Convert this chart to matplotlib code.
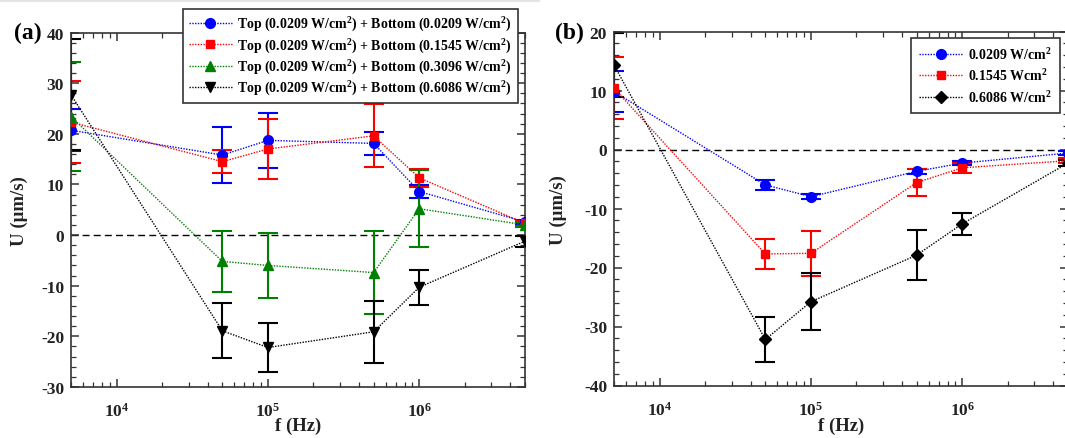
import matplotlib
matplotlib.use("Agg")
import matplotlib.pyplot as plt
from matplotlib.patches import Rectangle
from matplotlib.ticker import MultipleLocator, LogLocator, NullFormatter, FixedLocator, FixedFormatter

plt.rcParams.update({
    "font.family": ["Liberation Serif", "DejaVu Serif"],
    "font.weight": "bold",
    "mathtext.fontset": "custom",
    "mathtext.rm": "Liberation Serif:bold",
    "mathtext.bf": "Liberation Serif:bold",
    "mathtext.it": "Liberation Serif:italic:bold",
    "axes.unicode_minus": False,
    "axes.linewidth": 1.2,
    "axes.edgecolor": "#333333",
})

# ---- data ---------------------------------------------------------------
freq_hz = [5e3, 5e4, 1e5, 5e5, 1e6, 5e6]

# (a) top transducer fixed, bottom transducer varied
a_labels = [
    "Top (0.0209 W/cm$^2$) + Bottom (0.0209 W/cm$^2$)",
    "Top (0.0209 W/cm$^2$) + Bottom (0.1545 W/cm$^2$)",
    "Top (0.0209 W/cm$^2$) + Bottom (0.3096 W/cm$^2$)",
    "Top (0.0209 W/cm$^2$) + Bottom (0.6086 W/cm$^2$)",
]
a_u_0209 = [20.7, 15.8, 18.7, 18.1, 8.6, 2.6]
a_err_0209 = [4.1, 5.6, 5.5, 2.2, 1.2, 0.4]
a_u_1545 = [22.3, 14.5, 17.0, 19.6, 11.3, 2.3]
a_err_1545 = [8.1, 2.2, 5.9, 6.2, 1.8, 0.5]
a_u_3096 = [23.4, -5.2, -6.0, -7.4, 5.2, 2.0]
a_err_3096 = [10.7, 6.0, 6.4, 8.2, 7.6, 0.5]
a_u_6086 = [27.7, -18.9, -22.2, -19.1, -10.3, -1.2]
a_err_6086 = [11.0, 5.4, 4.9, 6.1, 3.5, 1.1]

# (b) single transducer power
b_labels = ["0.0209 W/cm$^2$", "0.1545 Wcm$^2$", "0.6086 W/cm$^2$"]
b_u_0209 = [9.8, -6.0, -8.0, -3.7, -2.3, -0.6]
b_err_0209 = [3.5, 0.8, 0.4, 0.4, 0.4, 0.4]
b_u_1545 = [10.4, -17.7, -17.6, -5.6, -3.1, -1.9]
b_err_1545 = [5.3, 2.5, 3.8, 2.3, 0.8, 0.4]
b_u_6086 = [14.3, -32.2, -25.8, -17.9, -12.6, -2.3]
b_err_6086 = [5.4, 3.8, 4.8, 4.2, 1.9, 0.5]

x_ticks = [1e4, 1e5, 1e6]
x_ticklabels = ["$10^4$", "$10^5$", "$10^6$"]

# ---- figure -------------------------------------------------------------
W, H = 1065, 439
fig = plt.figure(figsize=(W / 100, H / 100), dpi=100)

def fx(px):
    return px / W

def fy(py):
    return 1 - py / H

ax_a = fig.add_axes([fx(71), fy(388), fx(525 - 71), (388 - 33.5) / H])
ax_b = fig.add_axes([fx(614), fy(386.5), fx(1068 - 614), (386.5 - 32.5) / H])

# faint band along the top of the left panel
fig.add_artist(Rectangle((0, fy(2.5)), fx(540), 2.5 / H, transform=fig.transFigure,
                         facecolor="#e4e4e4", edgecolor="none", zorder=0))


def draw_series(ax, y, err, color, marker, ms, label):
    ax.errorbar(freq_hz, y, yerr=err, fmt="none", ecolor=color, elinewidth=1.5,
                capsize=7.5, capthick=1.5, zorder=2)
    ax.plot(freq_hz, y, linestyle=(0, (1, 1)), linewidth=1.0, color=color,
            marker=marker, markersize=ms, markerfacecolor=color,
            markeredgecolor=color, label=label, zorder=3)


def style_axes(ax, ylim, ymajor, yminor):
    ax.set_xscale("log")
    ax.set_xlim(5e3, 5e6)
    ax.set_ylim(*ylim)
    ax.axhline(0, color="black", linestyle=(0, (5, 3)), linewidth=1.0, zorder=1)
    ax.xaxis.set_major_locator(FixedLocator(x_ticks))
    ax.xaxis.set_major_formatter(FixedFormatter(x_ticklabels))
    ax.xaxis.set_minor_locator(LogLocator(base=10, subs=range(2, 10), numticks=20))
    ax.xaxis.set_minor_formatter(NullFormatter())
    ax.yaxis.set_major_locator(MultipleLocator(ymajor))
    ax.yaxis.set_minor_locator(MultipleLocator(yminor))
    ax.tick_params(which="both", direction="in", top=True, right=True,
                   labelsize=12.5, colors="#333333", labelcolor="#222222")
    ax.tick_params(which="major", length=6, width=1.1)
    ax.tick_params(axis="y", which="major", pad=5)
    ax.tick_params(axis="x", which="major", pad=11)
    ax.tick_params(which="minor", length=3.5, width=0.9)
    ax.set_xlabel("f (Hz)", fontsize=13.5, fontweight="bold", color="#222222")
    ax.set_ylabel("U (\u03bcm/s)", fontsize=13.5, fontweight="bold", color="#222222")


# ---- panel (a) ----------------------------------------------------------
draw_series(ax_a, a_u_0209, a_err_0209, "#0000ff", "o", 7, a_labels[0])
draw_series(ax_a, a_u_1545, a_err_1545, "#ff0000", "s", 6, a_labels[1])
draw_series(ax_a, a_u_3096, a_err_3096, "#008000", "^", 7.5, a_labels[2])
draw_series(ax_a, a_u_6086, a_err_6086, "#000000", "v", 7.5, a_labels[3])
style_axes(ax_a, (-30, 40), 10, 2)
ax_a.xaxis.set_label_coords(fx(298), fy(418), transform=fig.transFigure)
ax_a.yaxis.set_label_coords(fx(28), fy(211), transform=fig.transFigure)

leg_a = ax_a.legend(loc="upper right", bbox_to_anchor=(fx(518), fy(10)),
                    bbox_transform=fig.transFigure, fontsize=10, frameon=True,
                    fancybox=False, framealpha=1, edgecolor="#333333",
                    handlelength=3.1, handletextpad=0.4, borderpad=0.45,
                    labelspacing=0.2, borderaxespad=0)
leg_a.get_frame().set_linewidth(1.2)
leg_a.set_zorder(10)

fig.text(fx(14), fy(33), "(a)", fontsize=17, fontweight="bold", va="center", ha="left")

# ---- panel (b) ----------------------------------------------------------
draw_series(ax_b, b_u_0209, b_err_0209, "#0000ff", "o", 7, b_labels[0])
draw_series(ax_b, b_u_1545, b_err_1545, "#ff0000", "s", 6, b_labels[1])
draw_series(ax_b, b_u_6086, b_err_6086, "#000000", "D", 6.5, b_labels[2])
style_axes(ax_b, (-40, 20), 10, 2)
ax_b.xaxis.set_label_coords(fx(841), fy(418), transform=fig.transFigure)
ax_b.yaxis.set_label_coords(fx(567), fy(210), transform=fig.transFigure)

leg_b = ax_b.legend(loc="upper right", bbox_to_anchor=(fx(1060), fy(38.5)),
                    bbox_transform=fig.transFigure, fontsize=10, frameon=True,
                    fancybox=False, framealpha=1, edgecolor="#333333",
                    handlelength=3.1, handletextpad=0.4, borderpad=0.6,
                    labelspacing=0.4, borderaxespad=0)
leg_b.get_frame().set_linewidth(1.2)

fig.text(fx(555), fy(33), "(b)", fontsize=17, fontweight="bold", va="center", ha="left")

fig.savefig("out.png", dpi=100)
